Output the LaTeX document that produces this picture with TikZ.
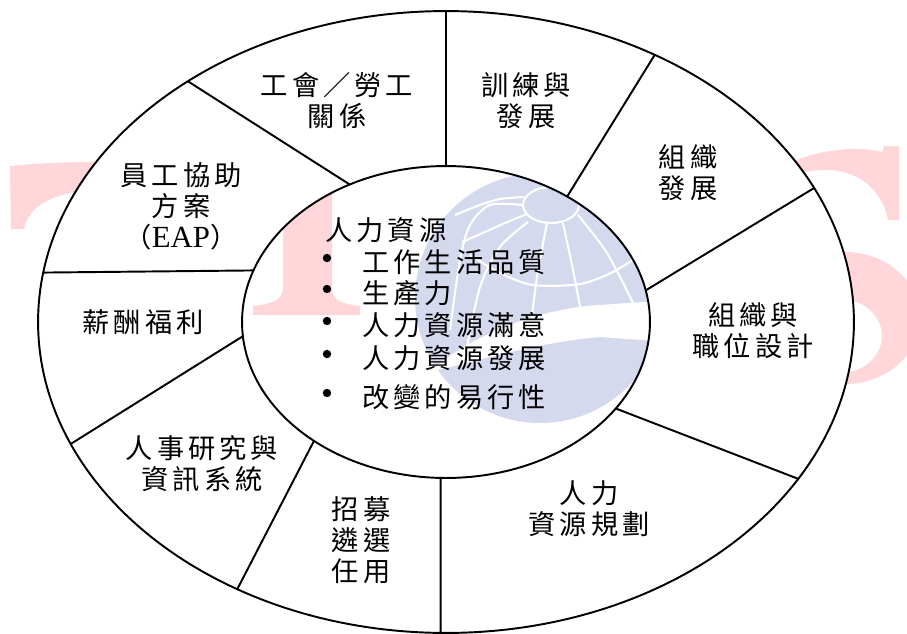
\documentclass[tikz,border=0pt]{standalone}
\usepackage{fontspec}
\setmainfont{Liberation Serif}
\newfontfamily\cjk[LetterSpace=15]{Noto Sans CJK TC}
\usetikzlibrary{shapes.geometric}

\definecolor{wmpink}{RGB}{255,214,218}
\definecolor{wmblue}{RGB}{213,217,238}

\tikzset{
  wheel/.style={draw, ellipse, inner sep=0pt, outer sep=0pt, line width=1.1pt},
  lbl/.style={font=\cjk\fontsize{15.5}{17.6}\selectfont, align=center, inner sep=0pt},
  item/.style={font=\cjk\fontsize{15.5}{18}\selectfont, anchor=west, inner sep=0pt},
  dot/.style={circle, fill=black, inner sep=0pt, minimum size=4.8pt},
  globeline/.style={white, line width=1.2pt}
}

\begin{document}
\begin{tikzpicture}[x=0.02cm, y=-0.02cm]
\useasboundingbox (0,0) rectangle (907,633);

% background logo: T, S and globe
\fill[wmpink] (10,166) .. controls (60,160) and (200,160) .. (300,165) -- (300,186)
  .. controls (200,186) and (95,185) .. (62,195) .. controls (36,203) and (27,215) .. (24,229)
  -- (11,229) -- cycle;
\fill[wmpink] (283,150) -- (283,288) .. controls (283,302) and (268,304) .. (253,306)
  -- (253,315) -- (360,315) -- (360,306) .. controls (345,304) and (332,302) .. (332,288)
  -- (332,150) -- cycle;
\fill[wmpink] (785,165) .. controls (820,148) and (860,146) .. (882,152) -- (884,146)
  -- (899,146) -- (899,220) -- (888,220) .. controls (882,190) and (860,172) .. (830,170)
  .. controls (810,170) and (795,172) .. (785,178) -- cycle;
\fill[wmpink, even odd rule] (845,318) ellipse [x radius=75, y radius=66]
  (840,336) ellipse [x radius=42, y radius=37];
\begin{scope}
  \clip (540,298) circle [radius=125];
  \fill[wmblue] (540,298) circle [radius=125];
  \draw[globeline] (551,205) ellipse [x radius=28, y radius=18];
  \draw[globeline] plot[smooth] coordinates {(455,215) (480,205) (500,199) (524,197)};
  \draw[globeline] plot[smooth] coordinates {(462,242) (485,232) (505,223) (527,214)};
  \draw[globeline] plot[smooth] coordinates {(470,255) (500,273) (533,285) (580,284) (613,272) (640,255)};
  \draw[globeline] plot[smooth] coordinates {(528,222) (500,247) (480,287) (467,347)};
  \draw[globeline] plot[smooth] coordinates {(547,223) (537,277) (530,333)};
  \draw[globeline] plot[smooth] coordinates {(563,223) (573,270) (582,317)};
  \draw[globeline] plot[smooth] coordinates {(578,215) (607,253) (633,303)};
  \draw[globeline] plot[smooth] coordinates {(523,205) (490,205) (470,225) (460,260) (450,330)};
  \fill[white] (430,372) .. controls (470,335) and (540,308) .. (600,305) -- (670,300)
    -- (670,342) -- (600,337) .. controls (540,342) and (480,360) .. (430,372) -- cycle;
\end{scope}

% white ring between the two ellipses
\fill[white, even odd rule] (446,322) ellipse [x radius=408, y radius=311]
  (446,322) ellipse [x radius=204, y radius=156];

\node[wheel, minimum width=16.32cm, minimum height=12.44cm] (outer) at (446,322) {};
\node[wheel, minimum width=8.16cm, minimum height=6.24cm] (inner) at (446,322) {};

% spokes
\foreach \a/\b in {90/90, 125.9/137.7, 165.9/173.5, 184.8/198.2, 222.1/232.2,
                   268.9/269.4, 333/336, 9.3/20.8, 46.4/52.7}
  \draw[line width=1.1pt] (inner.\a) -- (outer.\b);

% segment labels
\node[lbl] (union) at (337,101) {工會／勞工\\關係};
\node[lbl] (train) at (526,101) {訓練與\\發展};
\node[lbl] (orgdev) at (688,173) {組織\\發展};
\node[lbl] (jobdesign) at (753,331) {組織與\\職位設計};
\node[lbl] (hrplan) at (589,509) {人力\\資源規劃};
\node[lbl] (staffing) at (361,540) {招募\\遴選\\任用};
\node[lbl] (hris) at (202,464) {人事研究與\\資訊系統};
\node[lbl] (comp) at (143,322) {薪酬福利};
\node[lbl] (eap) at (181,206) {員工協助\\方案\\（{\rmfamily\fontsize{17.5}{17.6}\selectfont EAP}）};

% centre list
\node[item] (hr) at (325,230) {人力資源};
\foreach \y/\txt [count=\i] in {262/工作生活品質, 293/生產力, 325/人力資源滿意,
                                358/人力資源發展, 397/改變的易行性} {
  \node[dot] (b\i) at (327,\y-4) {};
  \node[item] (t\i) at (362,\y) {\txt};
}
\end{tikzpicture}
\end{document}
